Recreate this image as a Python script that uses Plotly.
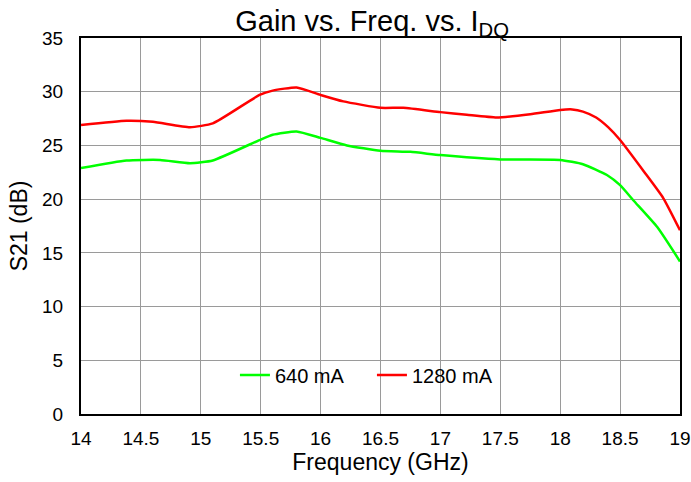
import plotly.graph_objects as go

# readings
freq_640 = [14.0, 14.38, 14.66, 14.91, 15.1, 15.49, 15.6, 15.8, 16.0, 16.22, 16.5,
            16.75, 17.0, 17.5, 18.0, 18.19, 18.39, 18.5, 18.61, 18.81, 19.0]
gain_640 = [22.9, 23.6, 23.65, 23.35, 23.6, 25.5, 26.0, 26.3, 25.7, 25.0, 24.5,
            24.4, 24.1, 23.7, 23.65, 23.25, 22.25, 21.3, 19.9, 17.4, 14.2]

freq_1280 = [14.0, 14.38, 14.6, 14.91, 15.1, 15.49, 15.6, 15.8, 16.0, 16.19, 16.5,
             16.69, 17.0, 17.22, 17.47, 17.75, 18.0, 18.1, 18.19, 18.3, 18.4, 18.5,
             18.7, 18.86, 19.0]
gain_1280 = [26.9, 27.3, 27.2, 26.7, 27.05, 29.7, 30.1, 30.4, 29.7, 29.1, 28.5,
             28.5, 28.1, 27.85, 27.6, 27.9, 28.3, 28.35, 28.15, 27.6, 26.7, 25.5,
             22.55, 20.1, 17.1]

font = "Liberation Sans, Arial, sans-serif"

fig = go.Figure()
fig.add_trace(go.Scatter(x=freq_640, y=gain_640, name="640 mA", mode="lines",
                         line=dict(color="#00ff00", width=2.5, shape="spline", smoothing=0.5)))
fig.add_trace(go.Scatter(x=freq_1280, y=gain_1280, name="1280 mA", mode="lines",
                         line=dict(color="#ff0000", width=2.5, shape="spline", smoothing=0.5)))

# white box behind the legend, covers the grid
fig.add_shape(type="rect", xref="paper", yref="paper", x0=0.222, x1=0.745, y0=0.024, y1=0.184,
              fillcolor="white", line_width=0, layer="between")

fig.update_layout(
    width=691, height=482,
    margin=dict(l=81, r=11, t=38, b=68),
    paper_bgcolor="white", plot_bgcolor="white",
    font=dict(family=font, color="black", size=19),
    title=dict(text="Gain vs. Freq. vs. I<sub>DQ</sub>", x=0.486, xref="paper", xanchor="center",
               y=0.956, yref="container", yanchor="middle", font=dict(size=29)),
    legend=dict(orientation="h", x=0.257, xanchor="left", y=0.104, yanchor="middle",
                bgcolor="rgba(0,0,0,0)", font=dict(size=20), entrywidth=92),
)
fig.update_xaxes(range=[14, 19], dtick=0.5, showgrid=True, gridcolor="#9a9a9a", gridwidth=1,
                 showline=True, linecolor="black", linewidth=2, mirror=True, zeroline=False,
                 title=dict(text="Frequency (GHz)", font=dict(size=23), standoff=2),
                 ticks="", ticklabelstandoff=6, automargin=False)
fig.update_yaxes(range=[0, 35], dtick=5, showgrid=True, gridcolor="#9a9a9a", gridwidth=1,
                 showline=True, linecolor="black", linewidth=2, mirror=True, zeroline=False,
                 title=dict(text="S21 (dB)", font=dict(size=23), standoff=8),
                 ticks="", ticklabelstandoff=12, automargin=False)

# drop the default body margin so the figure fills the window exactly
fig.write_html("out.html", config={"displayModeBar": False},
               post_script="document.body.style.margin='0';")
